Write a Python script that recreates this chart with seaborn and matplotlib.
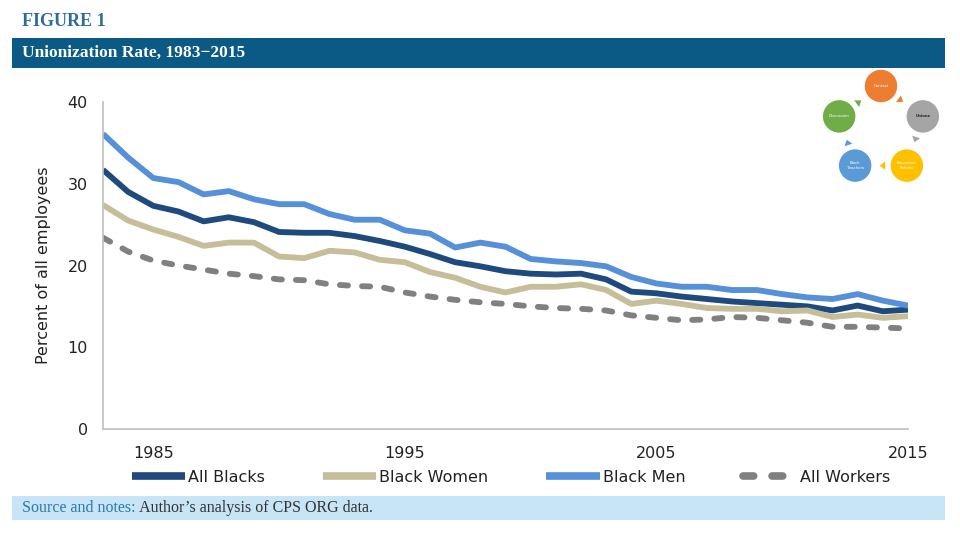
import numpy as np
import pandas as pd
import seaborn as sns
import matplotlib.pyplot as plt
from matplotlib.patches import Rectangle, Circle, FancyArrowPatch
from matplotlib.lines import Line2D

# data
years = list(range(1983, 2016))
all_blacks = [31.7, 29.0, 27.3, 26.6, 25.4, 25.9, 25.3, 24.1, 24.0,
              24.0, 23.6, 23.0, 22.3, 21.4, 20.4, 19.9, 19.3, 19.0,
              18.9, 19.0, 18.3, 16.8, 16.6, 16.2, 15.9,
              15.6, 15.4, 15.2, 15.0, 14.5, 15.1, 14.4, 14.6]
black_women = [27.4, 25.5, 24.4, 23.5, 22.4, 22.8, 22.8, 21.1, 20.9,
               21.8, 21.6, 20.7, 20.4, 19.2, 18.5, 17.4, 16.7, 17.4,
               17.4, 17.7, 17.0, 15.3, 15.7, 15.3, 14.8,
               14.7, 14.7, 14.4, 14.5, 13.7, 14.0, 13.6, 13.8]
black_men = [36.1, 33.2, 30.7, 30.2, 28.7, 29.1, 28.1, 27.5, 27.5,
             26.3, 25.6, 25.6, 24.3, 23.9, 22.2, 22.8, 22.3, 20.8,
             20.5, 20.3, 19.9, 18.6, 17.8, 17.4, 17.4,
             17.0, 17.0, 16.5, 16.1, 15.9, 16.5, 15.7, 15.1]
all_workers = [23.4, 21.7, 20.6, 20.0, 19.5, 19.0, 18.7, 18.3, 18.2,
               17.7, 17.5, 17.4, 16.7, 16.2, 15.8, 15.5, 15.3, 15.0,
               14.8, 14.7, 14.5, 13.9, 13.6, 13.3, 13.4,
               13.7, 13.6, 13.3, 13.0, 12.5, 12.5, 12.4, 12.3]
series_names = ["All Blacks", "Black Women", "Black Men", "All Workers"]
x_labels = [1985, 1995, 2005, 2015]

# little cycle diagram in the corner
cycle_labels = ["Context", "Unions", "Education\nReform", "Black\nTeachers", "Discussion"]
cycle_colors = ["#ED7D31", "#A5A5A5", "#FFC000", "#5B9BD5", "#70AD47"]

colors = {"All Blacks": "#1F4A7E", "Black Women": "#C6BE98",
          "Black Men": "#5590D8", "All Workers": "#808080"}
dashes = {"All Blacks": "", "Black Women": "", "Black Men": "", "All Workers": (1.4, 2.4)}

df = pd.DataFrame({"year": years, "All Blacks": all_blacks, "Black Women": black_women,
                   "Black Men": black_men, "All Workers": all_workers})
long_df = df.melt(id_vars="year", var_name="series", value_name="rate")

sns.set_style("white")
plt.rcParams['font.family'] = ['DejaVu Sans']

fig = plt.figure(figsize=(9.6, 5.4), dpi=100)
ax = fig.add_axes([103/960, 1 - 429/540, 805/960, 327/540])

sns.lineplot(data=long_df, x="year", y="rate", hue="series", style="series",
             hue_order=series_names, style_order=series_names,
             palette=colors, dashes=dashes, linewidth=4.2, ax=ax, legend=False)
for ln in ax.get_lines():
    ln.set_dash_capstyle("round")
    ln.set_solid_capstyle("butt")

ax.set_xlim(1983, 2015)
ax.set_ylim(0, 40)
ax.set_yticks([0, 10, 20, 30, 40])
ax.set_xticks(x_labels)
ax.set_xticks(years, minor=True)
ax.set_xlabel("")
ax.set_ylabel("Percent of all employees", fontsize=11.5, color="#222222", labelpad=12)
sns.despine(ax=ax)
for s in ["left", "bottom"]:
    ax.spines[s].set_color("#BFBFBF")
    ax.spines[s].set_linewidth(1.2)
ax.tick_params(axis="x", which="both", direction="out", length=5, color="#BFBFBF",
               pad=7, labelsize=11.5, labelcolor="#222222")
ax.tick_params(axis="y", direction="out", length=5, color="#BFBFBF",
               pad=6, labelsize=11.5, labelcolor="#222222")

# legend under the axis
handles = [Line2D([], [], color=colors[n], linewidth=5.5,
                  linestyle=(0, dashes[n]) if dashes[n] else "-",
                  dash_capstyle="round", solid_capstyle="butt") for n in series_names]
fig.legend(handles, series_names, loc="center", bbox_to_anchor=(0.532, 1 - 477/540), ncol=4,
           frameon=False, fontsize=11.5, handlelength=3.35, handletextpad=0.2,
           columnspacing=3.6, labelcolor="#222222")

# header
serif = ["Liberation Serif", "DejaVu Serif"]
fig.text(22/960, 1 - 22/540, "FIGURE 1", fontsize=13, fontweight="bold", color="#2C6D97",
         family=serif, va="center", ha="left")
fig.patches.append(Rectangle((12/960, 1 - 68/540), 933/960, 30/540, transform=fig.transFigure,
                             facecolor="#0B5A85", edgecolor="none"))
fig.text(22/960, 1 - 53/540, "Unionization Rate, 1983\u22122015", fontsize=12.5, fontweight="bold",
         color="white", family=serif, va="center", ha="left")

# source bar
fig.patches.append(Rectangle((12/960, 1 - 520/540), 933/960, 24/540, transform=fig.transFigure,
                             facecolor="#C7E5F7", edgecolor="none"))
t1 = fig.text(22/960, 1 - 508/540, "Source and notes:", fontsize=11.5, color="#2A79AC",
              family=serif, va="center", ha="left")
fig.canvas.draw()
bb = t1.get_window_extent()
fig.text(bb.x1 / fig.bbox.width, 1 - 508/540, " Author\u2019s analysis of CPS ORG data.",
         fontsize=11.5, color="#333333", family=serif, va="center", ha="left")

# cycle diagram, drawn in pixel units
dax = fig.add_axes([815/960, 1 - 190/540, 130/960, 125/540])
dax.set_xlim(815, 945)
dax.set_ylim(190, 65)
dax.axis("off")
cx, cy, rr = 881, 130, 44
angles = np.deg2rad([90, 18, -54, -126, -198])
pts = [(cx + rr*np.cos(a), cy - rr*np.sin(a)) for a in angles]
for (px, py), lab, col in zip(pts, cycle_labels, cycle_colors):
    dax.add_patch(Circle((px, py), 16.8, facecolor=col, edgecolor="white", linewidth=0.8))
    dax.text(px, py, lab, ha="center", va="center", fontsize=2.8,
             color="#222222" if lab == "Unions" else "white",
             fontweight="bold" if lab == "Unions" else "normal")
for i in range(5):
    a = pts[i]
    b = pts[(i + 1) % 5]
    mx, my = (a[0] + b[0]) / 2, (a[1] + b[1]) / 2
    dx, dy = (b[0] - a[0]) * 0.08, (b[1] - a[1]) * 0.08
    dax.add_patch(FancyArrowPatch((mx - dx, my - dy), (mx + dx, my + dy),
                                  arrowstyle="simple,head_length=4,head_width=6,tail_width=3",
                                  color=cycle_colors[i], mutation_scale=1, linewidth=0))

fig.savefig("out.png", dpi=100)
